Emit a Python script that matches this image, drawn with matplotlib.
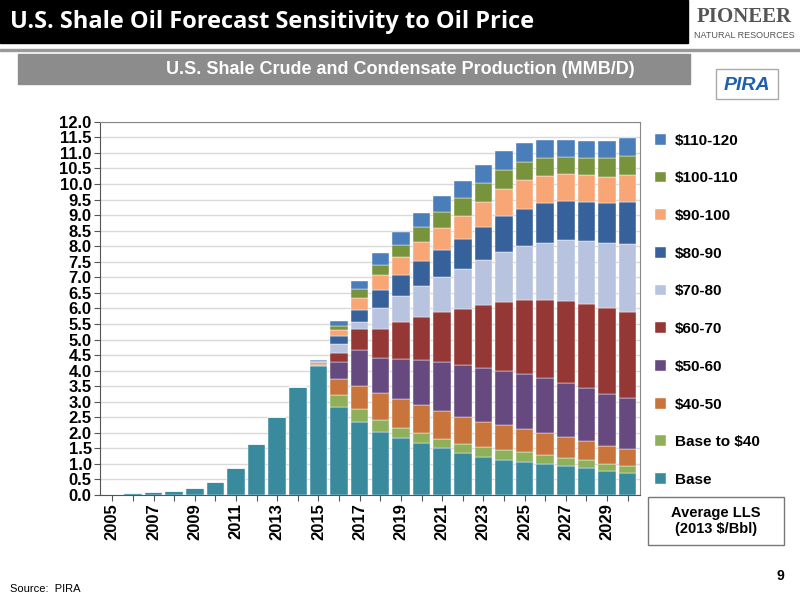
import numpy as np
import matplotlib.pyplot as plt
from matplotlib.patches import Rectangle

plt.rcParams['font.family'] = ['Liberation Sans', 'DejaVu Sans']

years = list(range(2005, 2031))
base = [0.02,0.05,0.09,0.13,0.23,0.43,0.86,1.65,2.52,3.48,4.15,
        2.83,2.34,2.03,1.84,1.66,1.52,1.36,1.23,1.13,1.07,1.00,0.93,0.86,0.77,0.72]
# cumulative tops per band (MMB/D), 2015-2030
cum_40 = [4.18,3.21,2.75,2.41,2.17,1.98,1.79,1.64,1.53,1.45,1.39,1.29,1.20,1.13,1.00,0.93]
cum_50 = [4.21,3.72,3.49,3.29,3.09,2.89,2.70,2.52,2.36,2.25,2.12,2.00,1.87,1.73,1.59,1.47]
cum_60 = [4.24,4.29,4.66,4.40,4.37,4.34,4.28,4.18,4.09,4.00,3.90,3.75,3.61,3.43,3.26,3.11]
cum_70 = [4.27,4.58,5.35,5.35,5.55,5.73,5.87,5.97,6.10,6.20,6.27,6.27,6.24,6.14,6.02,5.89]
cum_80 = [4.27,4.87,5.55,6.02,6.40,6.72,7.00,7.26,7.56,7.80,8.00,8.11,8.20,8.17,8.09,8.06]
cum_90 = [4.27,5.10,5.96,6.59,7.06,7.52,7.89,8.23,8.61,8.96,9.20,9.38,9.45,9.43,9.39,9.41]
cum_100 = [4.27,5.30,6.32,7.06,7.64,8.15,8.60,8.98,9.43,9.84,10.12,10.27,10.31,10.29,10.23,10.29]
cum_110 = [4.30,5.45,6.62,7.41,8.04,8.61,9.11,9.54,10.03,10.45,10.71,10.85,10.86,10.85,10.83,10.90]
cum_120 = [4.33,5.60,6.89,7.77,8.45,9.07,9.61,10.09,10.61,11.06,11.31,11.41,11.41,11.38,11.38,11.47]
labels = ["Base","Base to $40","$40-50","$50-60","$60-70","$70-80","$80-90","$90-100","$100-110","$110-120"]
colors = ["#3A8A9E","#8FB05A","#C8743A","#65497F","#953735","#B7C3DF","#36619A","#F9A676","#77933C","#4A7EBB"]

fig = plt.figure(figsize=(8,6), dpi=100)
fig.patch.set_facecolor("white")
fig.patches.append(Rectangle((0,0.928),0.86,0.072,transform=fig.transFigure,color="black",zorder=0))
fig.text(0.012,0.963,"U.S. Shale Oil Forecast Sensitivity to Oil Price",color="white",
         fontsize=17,fontweight="bold",va="center",family="Open Sans")
fig.text(0.93,0.972,"PIONEER",fontsize=15,fontweight="bold",color="#555555",ha="center",va="center",family="Liberation Serif")
fig.text(0.93,0.94,"NATURAL RESOURCES",fontsize=6.5,color="#555555",ha="center",va="center")
fig.patches.append(Rectangle((0.0,0.915),1,0.004,transform=fig.transFigure,color="#999999"))
fig.patches.append(Rectangle((0.022,0.86),0.84,0.05,transform=fig.transFigure,color="#8C8C8C"))
fig.text(0.5,0.885,"U.S. Shale Crude and Condensate Production (MMB/D)",color="white",
         fontsize=13,fontweight="bold",ha="center",va="center")
fig.patches.append(Rectangle((0.895,0.835),0.078,0.05,transform=fig.transFigure,fill=False,edgecolor="#AAAAAA",lw=1))
fig.text(0.934,0.858,"PIRA",color="#1F5FAD",fontsize=14,fontweight="bold",style="italic",ha="center",va="center")

ax = fig.add_axes([0.125,0.175,0.675,0.622])
x = np.arange(len(years))
tops = [np.array(base,dtype=float)]
for c in [cum_40,cum_50,cum_60,cum_70,cum_80,cum_90,cum_100,cum_110,cum_120]:
    tops.append(np.array(base[:10]+c,dtype=float))
prev = np.zeros(len(years))
for i,(t,col) in enumerate(zip(tops,colors)):
    h = np.maximum(t-prev,0)
    ax.bar(x,h,bottom=prev,width=0.85,color=col,edgecolor="white",linewidth=0.3,label=labels[i],zorder=3)
    prev = np.maximum(prev,t)
ax.set_xlim(-0.6,len(years)-0.4)
ax.set_ylim(0,12)
yt = np.arange(0,12.01,0.5)
ax.set_yticks(yt)
ax.set_yticklabels([f"{v:.1f}" for v in yt],fontsize=12,fontweight="bold")
ax.set_xticks(x)
ax.set_xticklabels([str(y) if (y-2005)%2==0 else "" for y in years],rotation=90,fontsize=12,fontweight="bold")
ax.yaxis.grid(True,color="#D9D9D9",linewidth=1,zorder=0)
for s in ["top","right"]:
    ax.spines[s].set_color("#888888")
ax.spines["left"].set_color("#555555"); ax.spines["bottom"].set_color("#555555")
ax.tick_params(length=4,color="#555555",pad=2)

h,l = ax.get_legend_handles_labels()
fig.legend(h[::-1],l[::-1],loc="upper left",bbox_to_anchor=(0.802,0.8),frameon=False,
           prop={"weight":"bold","size":11},labelspacing=1.55,handlelength=0.7,handleheight=0.7,handletextpad=0.6)
fig.patches.append(Rectangle((0.81,0.092),0.17,0.08,transform=fig.transFigure,fill=False,edgecolor="#777777",lw=1))
fig.text(0.895,0.132,"Average LLS\n(2013 $/Bbl)",ha="center",va="center",fontsize=10.5,fontweight="bold")
fig.text(0.012,0.018,"Source:  PIRA",fontsize=8,va="center")
fig.text(0.975,0.04,"9",fontsize=10,fontweight="bold",ha="center",va="center")
fig.savefig("out.png",dpi=100)
